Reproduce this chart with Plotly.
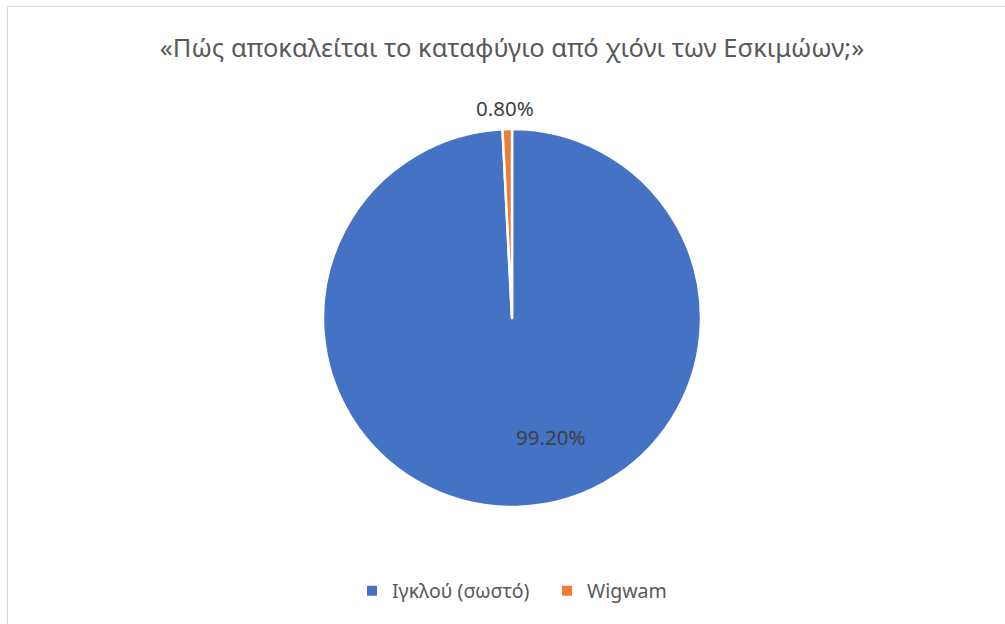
import plotly.graph_objects as go

# Survey answers and their shares (%)
answers = ["Ιγκλού (σωστό)", "Wigwam"]
shares = [99.2, 0.8]
colors = ["#4472C4", "#ED7D31"]
title_text = "«Πώς αποκαλείται το καταφύγιο από χιόνι των Εσκιμώων;»"

W, H = 1005, 624
cx, cy, r = 512, 318, 189  # pie centre and radius in px

fig = go.Figure(
    go.Pie(
        labels=answers,
        values=shares,
        sort=False,
        direction="clockwise",
        rotation=0,
        marker=dict(colors=colors, line=dict(color="white", width=2.5)),
        textinfo="none",
        hoverinfo="label+percent",
        domain=dict(x=[(cx - r) / W, (cx + r) / W], y=[1 - (cy + r) / H, 1 - (cy - r) / H]),
    )
)

# Data labels placed like the spreadsheet's best-fit positions
label_pos = [(550, 437), (505, 108)]
for val, (lx, ly) in zip(shares, label_pos):
    fig.add_annotation(
        x=lx / W, y=1 - ly / H, xref="paper", yref="paper",
        text=f"{val:.2f}%", showarrow=False,
        font=dict(family="Noto Sans, sans-serif", size=20.5, color="#404040"),
        xanchor="center", yanchor="middle",
    )

# Chart area frame
fig.add_shape(
    type="rect", xref="paper", yref="paper",
    x0=7.5 / W, y0=-0.05, x1=1.05, y1=1 - 6.5 / H,
    line=dict(color="#D9D9D9", width=1.2), fillcolor="rgba(0,0,0,0)",
)

fig.update_layout(
    width=W, height=H,
    margin=dict(l=0, r=0, t=0, b=0),
    paper_bgcolor="white",
    title=dict(
        text=title_text, x=512 / W, xanchor="center", y=1 - 48 / H, yanchor="middle",
        font=dict(family="Noto Sans, sans-serif", size=25.5, color="#595959"),
    ),
    legend=dict(
        orientation="h", x=352 / W, xanchor="left", y=1 - 591 / H, yanchor="middle",
        font=dict(family="Noto Sans, sans-serif", size=19.5, color="#595959"),
        itemsizing="constant",
        entrywidth=150, entrywidthmode="pixels",
    ),
)

fig.write_html("out.html")
